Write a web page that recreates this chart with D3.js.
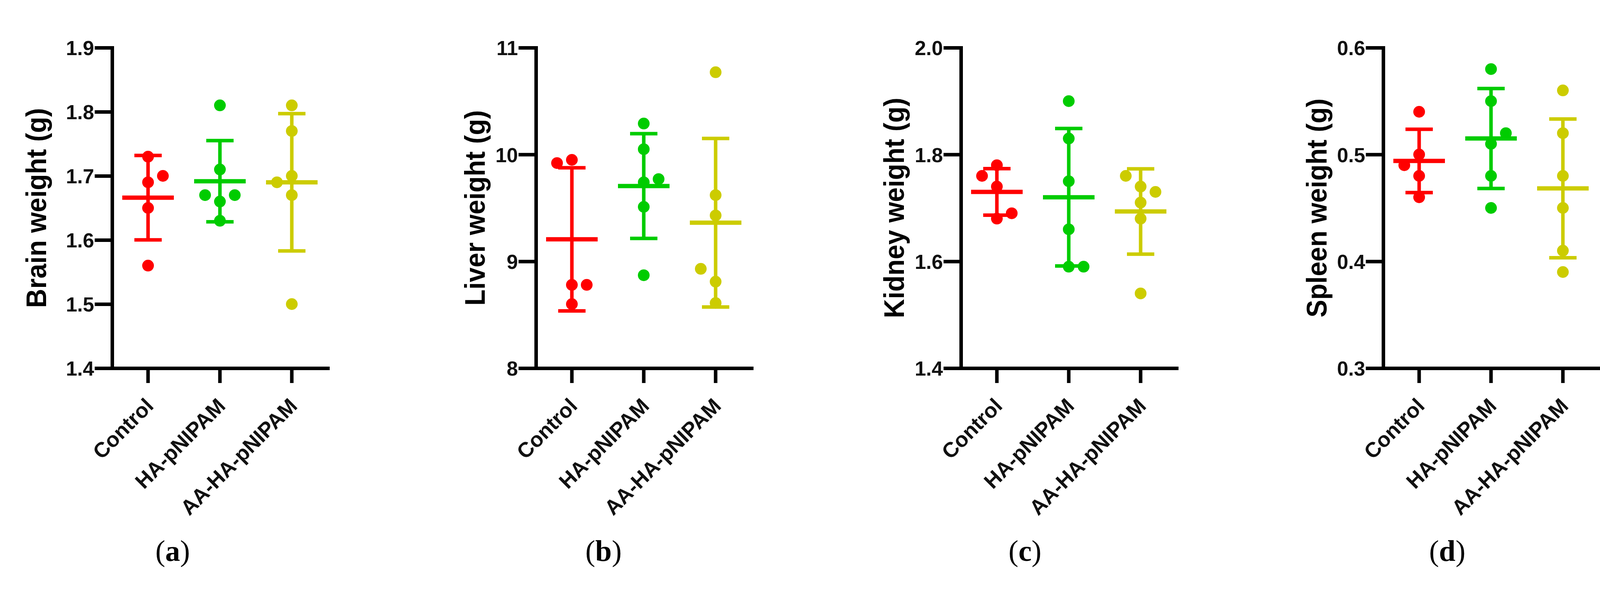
<!DOCTYPE html>
<html>
<head>
<meta charset="utf-8">
<script src="https://cdn.jsdelivr.net/npm/d3@7"></script>
<style>
  body { margin: 0; background: #fff; }
  .tick text { font-family: "Liberation Sans", Arial, sans-serif; font-weight: 700; fill: #111; }
  .ytitle { font-family: "Liberation Sans", Arial, sans-serif; font-weight: 700; fill: #000; }
  .tag { font-family: "Liberation Serif", "Times New Roman", serif; fill: #000; }
</style>
</head>
<body>
<div id="vis"></div>
<script>
// groups shared by every panel
const groups = ["Control", "HA-pNIPAM", "AA-HA-pNIPAM"];
const groupColors = ["#ff0000", "#00cc00", "#cccc00"];

// organ weights (g), one value per animal
const brainControl = [1.73, 1.69, 1.70, 1.65, 1.56];
const brainHA      = [1.81, 1.71, 1.66, 1.67, 1.67, 1.63];
const brainAA      = [1.81, 1.77, 1.70, 1.67, 1.69, 1.50];

const liverControl = [8.60, 8.78, 8.78, 9.95, 9.92];
const liverHA      = [10.29, 10.05, 9.74, 9.77, 9.51, 8.87];
const liverAA      = [10.77, 9.62, 9.43, 8.81, 8.93, 8.61];

const kidneyControl = [1.78, 1.74, 1.68, 1.69, 1.76];
const kidneyHA      = [1.90, 1.83, 1.75, 1.66, 1.59, 1.59];
const kidneyAA      = [1.74, 1.71, 1.68, 1.54, 1.76, 1.73];

const spleenControl = [0.54, 0.50, 0.48, 0.46, 0.49];
const spleenHA      = [0.58, 0.55, 0.51, 0.48, 0.45, 0.52];
const spleenAA      = [0.56, 0.52, 0.48, 0.45, 0.41, 0.39];

// axis ticks
const brainTicks  = [1.4, 1.5, 1.6, 1.7, 1.8, 1.9];
const liverTicks  = [8, 9, 10, 11];
const kidneyTicks = [1.4, 1.6, 1.8, 2.0];
const spleenTicks = [0.3, 0.4, 0.5, 0.6];

const titles = ["Brain weight (g)", "Liver weight (g)", "Kidney weight (g)", "Spleen weight (g)"];
const tags = ["a", "b", "c", "d"];

const panels = [
  { title: titles[0], tag: tags[0], ticks: brainTicks,  fmt: ".1f", series: [brainControl, brainHA, brainAA] },
  { title: titles[1], tag: tags[1], ticks: liverTicks,  fmt: "d",   series: [liverControl, liverHA, liverAA] },
  { title: titles[2], tag: tags[2], ticks: kidneyTicks, fmt: ".1f", series: [kidneyControl, kidneyHA, kidneyAA] },
  { title: titles[3], tag: tags[3], ticks: spleenTicks, fmt: ".1f", series: [spleenControl, spleenHA, spleenAA] }
];

// layout
const W = 4191, H = 1507;
const plotTop = 122, plotBottom = 942, plotW = 552;
const axisX = [287, 1372, 2460, 3541];
const titleX = [-194, -156, -171, -170];
const tagX = [442, 1545, 2624, 3705];
const tagY = 1435;
const dotR = 15, slotStep = 38, clash = 35;
const meanHalf = 66, capHalf = 35;

const svg = d3.select("#vis").append("svg")
  .attr("width", W).attr("height", H)
  .style("background", "#fff");

// horizontal spread of overlapping dots; the side alternates through the whole figure
let sideToggle = 1;
function spread(values, y) {
  const placed = [];
  return values.map(v => {
    const py = y(v);
    const hits = s => placed.some(p => p.slot === s && Math.abs(p.py - py) < clash);
    let slot = 0;
    if (hits(0)) {
      const side = sideToggle;
      sideToggle = -sideToggle;
      for (const s of [side, -side, 2 * side, -2 * side]) {
        if (!hits(s)) { slot = s; break; }
      }
    }
    placed.push({ slot, py });
    return { v, py, slot };
  });
}

panels.forEach((p, i) => {
  const g = svg.append("g").attr("transform", `translate(${axisX[i]},0)`);

  const y = d3.scaleLinear()
    .domain(d3.extent(p.ticks))
    .range([plotBottom, plotTop]);
  const x = d3.scaleBand().domain(groups).range([0, plotW]);

  // y axis
  const yAxis = g.append("g")
    .call(d3.axisLeft(y).tickValues(p.ticks).tickFormat(d3.format(p.fmt))
      .tickSize(40).tickSizeOuter(0).tickPadding(6));
  yAxis.selectAll("path, line").attr("stroke", "#000").attr("stroke-width", 9)
    .attr("stroke-linecap", "square");
  yAxis.selectAll("text").style("font-size", "52px").attr("dy", "0.36em");

  // x axis
  const xAxis = g.append("g").attr("transform", `translate(0,${plotBottom})`)
    .call(d3.axisBottom(x).tickSize(38).tickSizeOuter(0));
  xAxis.selectAll("path").attr("stroke", "#000").attr("stroke-width", 9)
    .attr("stroke-linecap", "square");
  xAxis.selectAll("line").attr("stroke", "#000").attr("stroke-width", 9);
  xAxis.selectAll("text")
    .style("font-size", "54px")
    .attr("text-anchor", "end")
    .attr("x", 17).attr("y", 100).attr("dy", 0)
    .attr("transform", "rotate(-45,17,100)");

  // y title, slightly condensed like the original export
  const cy = (plotTop + plotBottom) / 2;
  const yt = g.append("text").attr("class", "ytitle")
    .attr("x", titleX[i]).attr("y", cy)
    .attr("transform", `rotate(-90,${titleX[i]},${cy})`)
    .attr("text-anchor", "middle")
    .attr("dominant-baseline", "central")
    .style("font-size", "72px")
    .text(p.title);
  const natural = yt.node().getComputedTextLength();
  yt.attr("textLength", natural * 0.94).attr("lengthAdjust", "spacingAndGlyphs");

  // groups: dots, mean and SD
  p.series.forEach((vals, k) => {
    const cx = x(groups[k]) + x.bandwidth() / 2;
    const col = groupColors[k];
    const gg = g.append("g");

    gg.selectAll("circle").data(spread(vals, y)).join("circle")
      .attr("cx", d => cx + d.slot * slotStep)
      .attr("cy", d => d.py)
      .attr("r", dotR)
      .attr("fill", col);

    const m = d3.mean(vals), sd = d3.deviation(vals);
    gg.append("line")
      .attr("x1", cx).attr("x2", cx)
      .attr("y1", y(m - sd)).attr("y2", y(m + sd))
      .attr("stroke", col).attr("stroke-width", 9);
    [m - sd, m + sd].forEach(v => {
      gg.append("line")
        .attr("x1", cx - capHalf).attr("x2", cx + capHalf)
        .attr("y1", y(v)).attr("y2", y(v))
        .attr("stroke", col).attr("stroke-width", 9);
    });
    gg.append("line")
      .attr("x1", cx - meanHalf).attr("x2", cx + meanHalf)
      .attr("y1", y(m)).attr("y2", y(m))
      .attr("stroke", col).attr("stroke-width", 11);
  });

  // panel tag
  const t = svg.append("text").attr("class", "tag")
    .attr("x", tagX[i]).attr("y", tagY)
    .attr("text-anchor", "middle")
    .style("font-size", "76px");
  t.append("tspan").text("(");
  t.append("tspan").style("font-weight", 700).text(p.tag);
  t.append("tspan").text(")");
});
</script>
</body>
</html>
